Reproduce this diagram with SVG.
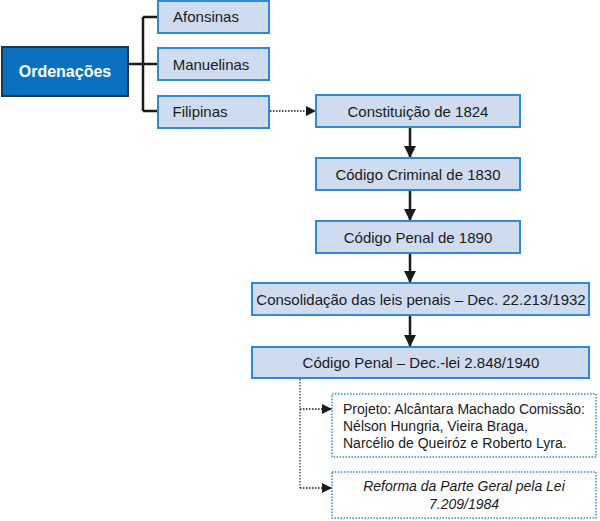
<svg xmlns="http://www.w3.org/2000/svg" width="600" height="521" viewBox="0 0 600 521">
<style>
.box{fill:#cfdcf0;stroke:#2f8ad4;stroke-width:2}
.dbox{fill:#fff;stroke:#3a8ad0;stroke-width:1.5;stroke-dasharray:1.5 1.5}
.t{font-family:"Liberation Sans",Arial,sans-serif;font-size:15px;fill:#1a1a1a;text-anchor:middle}
.s{font-family:"Liberation Sans",Arial,sans-serif;font-size:14px;fill:#1a1a1a}
.ln{stroke:#1a1a1a;stroke-width:2.5;fill:none}
.dl{stroke:#1a1a1a;stroke-width:1.5;fill:none;stroke-dasharray:1.5 1.5}
.dv{stroke:#555;stroke-width:1.5;fill:none;stroke-dasharray:1.5 1.5}
</style>
<defs>
<marker id="ah" viewBox="0 0 10 10" refX="10" refY="5" markerWidth="10" markerHeight="10" markerUnits="userSpaceOnUse" orient="auto">
<path d="M0,0 L10,5 L0,10 z" fill="#1a1a1a"/>
</marker>
<marker id="ah2" viewBox="0 0 10 10" refX="10" refY="5" markerWidth="12" markerHeight="12" markerUnits="userSpaceOnUse" orient="auto">
<path d="M0,0 L10,5 L0,10 z" fill="#1a1a1a"/>
</marker>
</defs>
<g id="connectors">
<path class="ln" d="M128,64 H143 M143,17 V111 M143,17 H158 M143,64 H158 M143,111 H158"/>
<path class="dl" d="M270,111 H316" marker-end="url(#ah)"/>
<path class="ln" d="M410,127 V158" marker-end="url(#ah2)"/>
<path class="ln" d="M410,190 V221" marker-end="url(#ah2)"/>
<path class="ln" d="M410,253 V283" marker-end="url(#ah2)"/>
<path class="ln" d="M410,315 V347" marker-end="url(#ah2)"/>
<path class="dv" d="M300,379 V488"/>
<path class="dl" d="M300,409 H332" marker-end="url(#ah)"/>
<path class="dl" d="M300,488 H332" marker-end="url(#ah)"/>
</g>
<g id="ordenacoes">
<rect x="2" y="47" width="126" height="49" fill="#0a70bf" stroke="#1c3550" stroke-width="2"/>
<text x="65" y="77" font-family="'Liberation Sans',Arial,sans-serif" font-size="16" font-weight="bold" fill="#fff" text-anchor="middle">Ordenações</text>
</g>
<g id="afonsinas"><rect class="box" x="158" y="1" width="111" height="32"/><text class="t" x="206" y="22">Afonsinas</text></g>
<g id="manuelinas"><rect class="box" x="158" y="48" width="111" height="32"/><text class="t" x="211" y="70">Manuelinas</text></g>
<g id="filipinas"><rect class="box" x="158" y="96" width="111" height="32"/><text class="t" x="200" y="117">Filipinas</text></g>
<g id="constituicao"><rect class="box" x="316" y="95" width="204" height="32"/><text class="t" x="418" y="117">Constituição de 1824</text></g>
<g id="criminal"><rect class="box" x="316" y="158" width="204" height="32"/><text class="t" x="418" y="180">Código Criminal de 1830</text></g>
<g id="penal1890"><rect class="box" x="316" y="221" width="204" height="32"/><text class="t" x="418" y="243">Código Penal de 1890</text></g>
<g id="consolidacao"><rect class="box" x="252" y="283" width="337" height="32"/><text class="t" x="421" y="305">Consolidação das leis penais – Dec. 22.213/1932</text></g>
<g id="penal1940"><rect class="box" x="252" y="347" width="337" height="31"/><text class="t" x="421" y="368">Código Penal – Dec.-lei 2.848/1940</text></g>
<g id="projeto"><rect class="dbox" x="332" y="394" width="264" height="63"/>
<text class="s" x="343" y="414">Projeto: Alcântara Machado Comissão:</text>
<text class="s" x="343" y="431">Nélson Hungria, Vieira Braga,</text>
<text class="s" x="343" y="448">Narcélio de Queiróz e Roberto Lyra.</text></g>
<g id="reforma"><rect class="dbox" x="332" y="472" width="264" height="46"/>
<text class="s" x="464" y="491" text-anchor="middle" font-style="italic">Reforma da Parte Geral pela Lei</text>
<text class="s" x="464" y="509" text-anchor="middle" font-style="italic">7.209/1984</text></g>
</svg>
